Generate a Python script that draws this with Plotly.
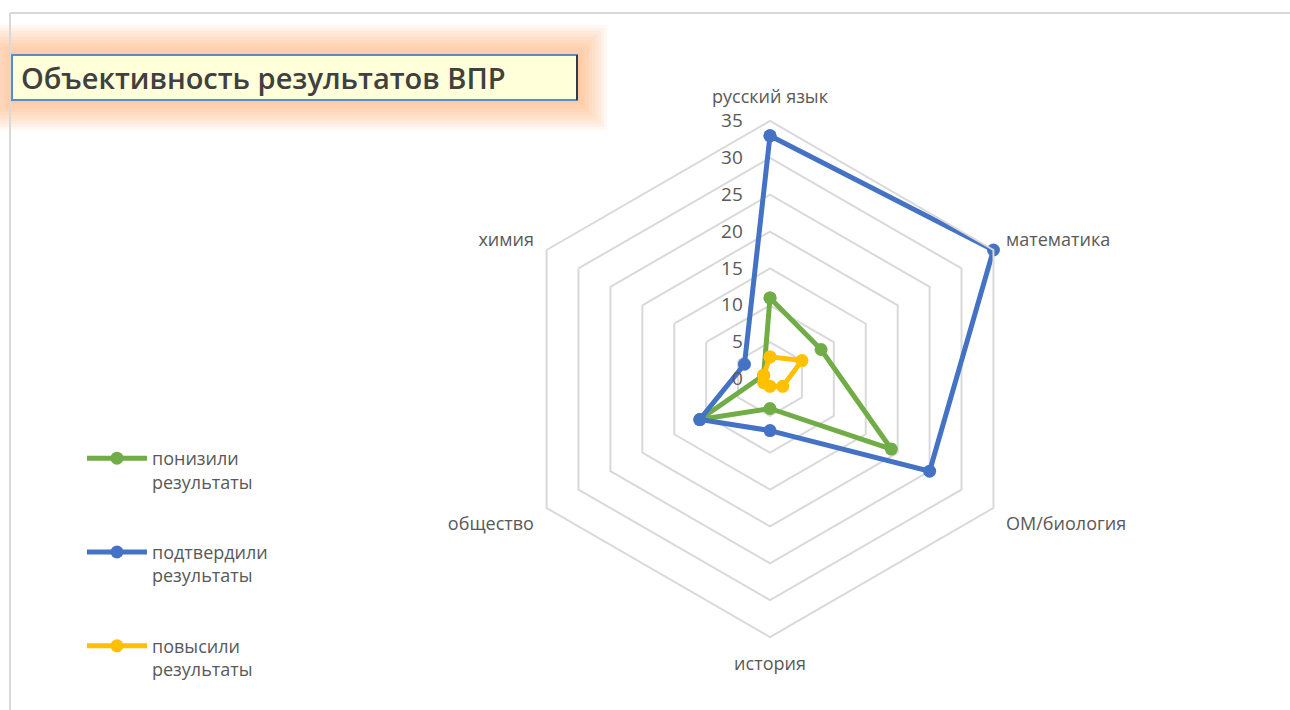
import plotly.graph_objects as go

categories = ["русский язык", "математика", "ОМ/биология", "история", "общество", "химия"]
series_names = ["понизили<br>результаты", "подтвердили<br>результаты", "повысили<br>результаты"]
lowered = [11, 8, 19, 4, 11, 1]
confirmed = [33, 35, 25, 7, 11, 4]
raised = [3, 5, 2, 1, 1, 1]
radial_ticks = [0, 5, 10, 15, 20, 25, 30, 35]
colors = ["#70AD47", "#4472C4", "#FFC000"]

W, H = 1290, 710
FONT = "Open Sans"
GRAY = "#595959"

def px(x):
    return x / W

def py(y):
    return 1 - y / H

fig = go.Figure()
for name, vals, col in zip(series_names, [lowered, confirmed, raised], colors):
    fig.add_trace(go.Scatterpolar(
        r=vals + vals[:1],
        theta=categories + categories[:1],
        mode="lines+markers",
        name=name,
        legendgroup=name,
        line=dict(color=col, width=5),
        marker=dict(color=col, size=13),
    ))

cx, cy, R = 770, 379, 258
shapes = []
# soft orange glow around the title box
for i in range(10):
    g = 3 + i * 3
    shapes.append(dict(type="rect", xref="paper", yref="paper",
                       x0=px(max(0, 12 - g)), x1=px(577 + g), y0=py(100 + g), y1=py(55 - g),
                       line=dict(width=0), fillcolor="rgba(250,165,100,0.075)", layer="below"))
shapes.append(dict(type="rect", xref="paper", yref="paper",
                   x0=px(12), x1=px(577), y0=py(100), y1=py(55),
                   line=dict(color="#5B8CC9", width=2), fillcolor="#FFFFD9"))
shapes.append(dict(type="line", xref="paper", yref="paper",
                   x0=px(577), x1=px(577), y0=py(100), y1=py(55),
                   line=dict(color="#2F3A4A", width=2)))
# frame lines
shapes.append(dict(type="line", xref="paper", yref="paper",
                   x0=px(10), x1=1, y0=py(13), y1=py(13),
                   line=dict(color="#D9D9D9", width=2)))
shapes.append(dict(type="line", xref="paper", yref="paper",
                   x0=px(10), x1=px(10), y0=py(13), y1=0,
                   line=dict(color="#D9D9D9", width=2)))

fig.update_layout(
    width=W, height=H,
    margin=dict(l=0, r=0, t=0, b=0),
    paper_bgcolor="white",
    font=dict(family=FONT, color=GRAY),
    showlegend=True,
    legend=dict(x=px(82), y=py(440), xanchor="left", yanchor="top",
                font=dict(size=18, color=GRAY, family=FONT),
                itemwidth=60,
                tracegroupgap=44, valign="top", bgcolor="rgba(0,0,0,0)"),
    shapes=shapes,
    annotations=[dict(text="Объективность результатов ВПР", xref="paper", yref="paper",
                      x=px(19), y=py(78), xanchor="left", yanchor="middle", showarrow=False,
                      font=dict(size=29, color="#404040", family=FONT, weight=600))],
    polar=dict(
        domain=dict(x=[px(cx - R), px(cx + R)], y=[py(cy + R), py(cy - R)]),
        gridshape="linear",
        bgcolor="white",
        radialaxis=dict(range=[0, 35], tickvals=radial_ticks, angle=90, tickangle=90,
                        showline=False, ticks="outside", ticklen=20,
                        tickcolor="rgba(0,0,0,0)",
                        gridcolor="#D9D9D9", gridwidth=2,
                        tickfont=dict(size=19, color=GRAY), side="counterclockwise"),
        angularaxis=dict(direction="clockwise", rotation=90, showgrid=False,
                         showline=True, linecolor="#D9D9D9", linewidth=2,
                         ticks="outside", ticklen=10, tickcolor="rgba(0,0,0,0)",
                         tickfont=dict(size=18, color=GRAY)),
    ),
)

fig.write_html("out.html", config={"displayModeBar": False},
               post_script="document.body.style.margin='0';")
